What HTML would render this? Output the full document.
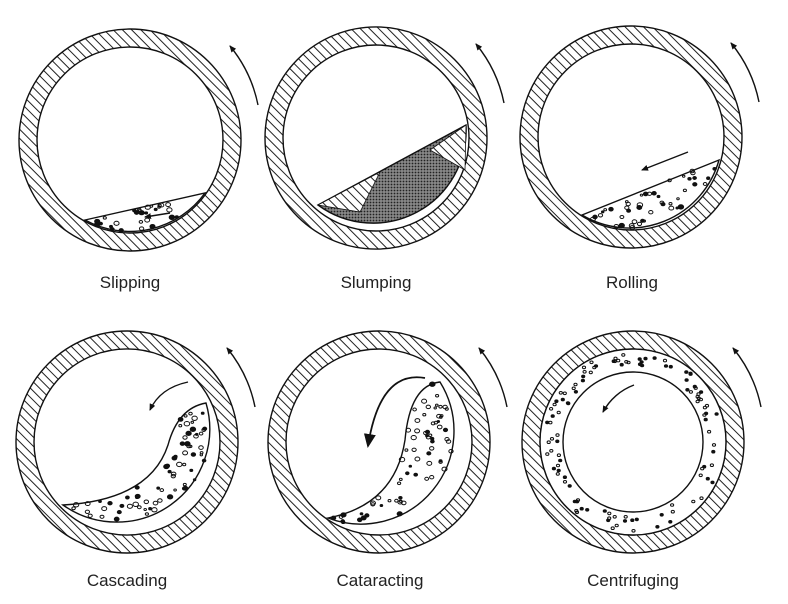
<!DOCTYPE html>
<html><head><meta charset="utf-8"><style>
html,body{margin:0;padding:0;background:#fff}
svg{display:block}
text{font-family:"Liberation Sans",sans-serif;font-size:17px;fill:#222}
</style></head><body>
<svg id="s" width="788" height="604" viewBox="0 0 788 604" xmlns="http://www.w3.org/2000/svg">
<defs>
<pattern id="h" patternUnits="userSpaceOnUse" width="6.5" height="6.5" patternTransform="rotate(-45)">
<rect width="6.5" height="6.5" fill="#fff"/><line x1="0" y1="0" x2="0" y2="6.5" stroke="#222" stroke-width="2"/>
</pattern>
<pattern id="st" patternUnits="userSpaceOnUse" width="3" height="3">
<rect width="3" height="3" fill="#888"/><circle cx="1.5" cy="1.5" r="0.9" fill="#222"/>
</pattern>
<marker id="a" markerWidth="8" markerHeight="8" refX="6" refY="4" orient="auto" markerUnits="userSpaceOnUse">
<path d="M0,1 L7,4 L0,7 Z" fill="#111"/></marker>
<marker id="ab" markerWidth="16" markerHeight="16" refX="12" refY="8" orient="auto" markerUnits="userSpaceOnUse">
<path d="M0,2 L14,8 L0,14 Z" fill="#111"/></marker>
</defs>
<g id="g" fill="none" stroke="#111" stroke-width="1.4"></g>
<text x="130" y="288" text-anchor="middle">Slipping</text>
<text x="376" y="288" text-anchor="middle">Slumping</text>
<text x="632" y="288" text-anchor="middle">Rolling</text>
<text x="127" y="586" text-anchor="middle">Cascading</text>
<text x="380" y="586" text-anchor="middle">Cataracting</text>
<text x="633" y="586" text-anchor="middle">Centrifuging</text>
</svg>
<script>
var g=document.getElementById('g'),NS='http://www.w3.org/2000/svg';
function el(t,a){var e=document.createElementNS(NS,t);for(var k in a)e.setAttribute(k,a[k]);g.appendChild(e);return e;}
var seed=7;function rnd(){seed=(seed*9301+49297)%233280;return seed/233280;}
var C=[[130,140],[376,138],[631,137],[127,442],[379,442],[633,442]];
var R=111,r=93;
C.forEach(function(c,i){
 var d='M'+(c[0]-R)+','+c[1]+' a'+R+','+R+' 0 1,0 '+2*R+',0 a'+R+','+R+' 0 1,0 '+(-2*R)+',0 Z M'+(c[0]-r)+','+c[1]+' a'+r+','+r+' 0 1,1 '+2*r+',0 a'+r+','+r+' 0 1,1 '+(-2*r)+',0 Z';
 el('path',{d:d,fill:'url(#h)','fill-rule':'evenodd'});
 var x=c[0],y=c[1];
 el('path',{d:'M'+(x+128)+','+(y-35)+' A135,135 0 0,0 '+(x+100)+','+(y-94),'marker-end':'url(#a)'});
});
function dots(path,n,bb){
 var p=el('path',{d:path,fill:'#fff'});
 for(var k=0,m=0;k<n*20&&m<n;k++){
  var x=bb[0]+rnd()*(bb[2]-bb[0]),y=bb[1]+rnd()*(bb[3]-bb[1]);
  if(p.isPointInFill&&!p.isPointInFill(new DOMPoint(x,y)))continue;
  m++;var rr=1.2+rnd()*1.6;
  el('ellipse',{cx:x.toFixed(1),cy:y.toFixed(1),rx:rr,ry:rr*0.8,fill:rnd()<0.4?'#111':'none','stroke-width':1});
 }
}
dots('M85,220 L205,193 A93,93 0 0,1 85,220 Z',28,[80,185,215,235]);
el('path',{d:'M170,213 L145,217','marker-end':'url(#a)'});
el('path',{d:'M318,205 L466,125 A93,93 0 0,1 318,205 Z',fill:'url(#st)'});
el('path',{d:'M318,205 L380,172 L360,212 Z',fill:'url(#h)','stroke-width':0.8});
el('path',{d:'M430,150 L466,125 L465,170 Z',fill:'url(#h)','stroke-width':0.8});
dots('M582,215 L719,160 A93,93 0 0,1 582,215 Z',45,[575,150,725,232]);
el('path',{d:'M688,152 L642,170','marker-end':'url(#a)'});
dots('M63,505 Q150,500 168,445 Q178,408 206,403 A93,93 0 0,1 63,505 Z',70,[60,395,222,536]);
el('path',{d:'M188,382 Q160,388 150,410','marker-end':'url(#a)'});
dots('M328,518 Q395,505 405,440 Q410,385 440,382 A93,93 0 0,1 328,518 Z',70,[325,375,474,536]);
el('path',{d:'M425,378 Q380,370 368,446','marker-end':'url(#ab)','stroke-width':1.8});
var c=C[5],d='M'+(c[0]-r)+','+c[1]+' a'+r+','+r+' 0 1,0 '+2*r+',0 a'+r+','+r+' 0 1,0 '+(-2*r)+',0 Z M'+(c[0]-70)+','+c[1]+' a70,70 0 1,1 140,0 a70,70 0 1,1 -140,0 Z';
var p=el('path',{d:d,fill:'#fff','fill-rule':'evenodd'});
for(var k=0;k<110;k++){var t=rnd()*6.283,rr=74+rnd()*16;el('ellipse',{cx:(c[0]+rr*Math.cos(t)).toFixed(1),cy:(c[1]+rr*Math.sin(t)).toFixed(1),rx:1.6,ry:1.3,fill:rnd()<0.4?'#111':'none','stroke-width':1});}
el('path',{d:'M634,385 A58,58 0 0,0 603,412','marker-end':'url(#a)'});
</script>
</body></html>
